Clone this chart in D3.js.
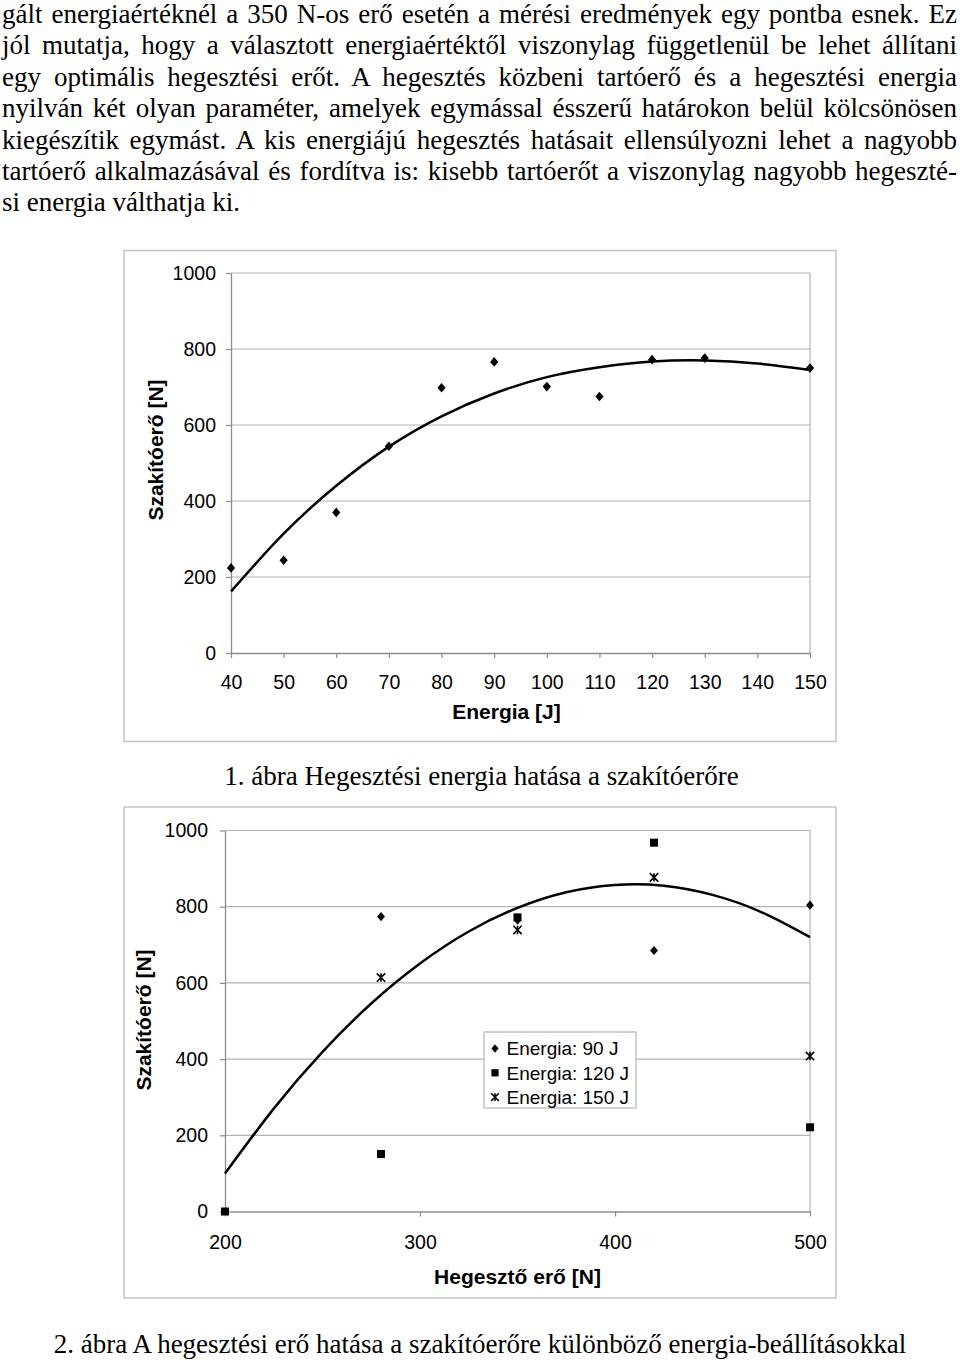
<!DOCTYPE html>
<html><head><meta charset="utf-8">
<script src="https://cdn.jsdelivr.net/npm/d3@7"></script>
<style>
html,body{margin:0;padding:0;background:#fff;}
svg{display:block;}
</style></head>
<body>
<script>
// ---------- DATA ----------
const bodyLines = [
  "gált energiaértéknél a 350 N-os erő esetén a mérési eredmények egy pontba esnek. Ez",
  "jól mutatja, hogy a választott energiaértéktől viszonylag függetlenül be lehet állítani",
  "egy optimális hegesztési erőt. A hegesztés közbeni tartóerő és a hegesztési energia",
  "nyilván két olyan paraméter, amelyek egymással ésszerű határokon belül kölcsönösen",
  "kiegészítik egymást. A kis energiájú hegesztés hatásait ellensúlyozni lehet a nagyobb",
  "tartóerő alkalmazásával és fordítva is: kisebb tartóerőt a viszonylag nagyobb hegeszté-",
  "si energia válthatja ki."
];
const caption1 = "1. ábra Hegesztési energia hatása a szakítóerőre";
const caption2 = "2. ábra A hegesztési erő hatása a szakítóerőre különböző energia-beállításokkal";

// Chart 1
const energy = [40, 50, 60, 70, 80, 90, 100, 110, 120, 130, 150];
const strength1 = [224, 244, 370, 544, 698, 766, 701, 675, 772, 776, 750];
const trend1X = [40, 50, 60, 70, 80, 90, 100, 110, 120, 130, 140, 150];
const trend1Y = [162, 314, 440, 543, 623, 683, 726, 752, 767, 770, 762, 745];
const xTicks1 = [40, 50, 60, 70, 80, 90, 100, 110, 120, 130, 140, 150];
const yTicks = [0, 200, 400, 600, 800, 1000];
const xTitle1 = "Energia [J]";
const yTitle = "Szakítóerő [N]";

// Chart 2
const force90 = [280, 350, 420, 500];
const s90 = [774, 765, 685, 804];
const force120 = [200, 280, 350, 420, 500];
const s120 = [0, 151, 772, 968, 221];
const force150 = [280, 350, 420, 500];
const s150 = [614, 739, 877, 408];
const trend2X = [200, 225, 250, 275, 300, 325, 350, 375, 400, 425, 450, 475, 500];
const trend2Y = [100, 270, 419, 546, 651, 735, 797, 838, 857, 855, 831, 786, 720];
const xTicks2 = [200, 300, 400, 500];
const xTitle2 = "Hegesztő erő [N]";
const legendLabels = ["Energia: 90 J", "Energia: 120 J", "Energia: 150 J"];

// ---------- DRAW ----------
const W = 960, H = 1363;
const svg = d3.select("body").append("svg").attr("width", W).attr("height", H);
svg.append("rect").attr("width", W).attr("height", H).attr("fill", "#fff");

const serif = "'Liberation Serif','Times New Roman',serif";
const sans = "'Liberation Sans',Arial,sans-serif";

// body text, justified per line
const bodySize = 27;
bodyLines.forEach((ln, i) => {
  const t = svg.append("text")
    .attr("x", 2).attr("y", 23 + i * 31.4)
    .attr("font-family", serif).attr("font-size", bodySize)
    .attr("fill", "#000").text(ln);
  if (i < bodyLines.length - 1) {
    const nat = t.node().getComputedTextLength();
    const spaces = (ln.match(/ /g) || []).length;
    const target = 955;
    if (spaces > 0) t.attr("word-spacing", (target - nat) / spaces);
  }
});

svg.append("text").attr("x", 481.5).attr("y", 785).attr("text-anchor", "middle")
  .attr("font-family", serif).attr("font-size", bodySize).text(caption1);
svg.append("text").attr("x", 480).attr("y", 1353).attr("text-anchor", "middle")
  .attr("font-family", serif).attr("font-size", bodySize).text(caption2);

function frame(x0, y0, x1, y1) {
  svg.append("rect").attr("x", x0).attr("y", y0).attr("width", x1 - x0).attr("height", y1 - y0)
    .attr("fill", "#fff").attr("stroke", "#c4c4c4").attr("stroke-width", 1.5);
}

function plotBase(x, y, xTicks, cfg) {
  const g = svg.append("g");
  const [xl, xr] = x.range();
  const [yb, yt] = y.range();
  g.selectAll("line.grid").data(yTicks.filter(d => d > 0)).join("line")
    .attr("x1", xl).attr("x2", xr).attr("y1", d => y(d)).attr("y2", d => y(d))
    .attr("stroke", "#b4b4b4").attr("stroke-width", 1.2);
  g.append("line").attr("x1", xr).attr("x2", xr).attr("y1", yt).attr("y2", yb)
    .attr("stroke", "#b4b4b4").attr("stroke-width", 1.2);
  const ya = g.append("g").attr("transform", `translate(${xl},0)`)
    .call(d3.axisLeft(y).tickValues(yTicks).tickFormat(d3.format("d")).tickSize(5).tickPadding(cfg.yPad).tickSizeOuter(0));
  const xa = g.append("g").attr("transform", `translate(0,${yb})`)
    .call(d3.axisBottom(x).tickValues(xTicks).tickFormat(d3.format("d")).tickSize(5).tickPadding(cfg.xPad).tickSizeOuter(0));
  [ya, xa].forEach(a => {
    a.select(".domain").attr("stroke", "#8c8c8c").attr("stroke-width", 1.3);
    a.selectAll(".tick line").attr("stroke", "#8c8c8c").attr("stroke-width", 1.2);
    a.selectAll(".tick text").attr("font-family", sans).attr("font-size", 19.5).attr("fill", "#000");
  });
  g.append("text").attr("x", cfg.xTitleX).attr("y", cfg.xTitleY).attr("text-anchor", "middle")
    .attr("font-family", sans).attr("font-weight", "bold").attr("font-size", 21).text(cfg.xTitle);
  g.append("text").attr("transform", `translate(${cfg.yTitleX},${cfg.yTitleY}) rotate(-90)`)
    .attr("text-anchor", "middle").attr("dy", "0.36em")
    .attr("font-family", sans).attr("font-weight", "bold").attr("font-size", 21).text(yTitle);
  return g;
}

function diamond(s) { return `M0,${-s}L${s * 0.85},0L0,${s}L${-s * 0.85},0Z`; }
function square(s) { return `M${-s},${-s}H${s}V${s}H${-s}Z`; }
function star(s) { return `M${-s},${-s}L${s},${s}M${-s},${s}L${s},${-s}M0,${-s}V${s}`; }

// ---- Chart 1 ----
frame(124, 250.5, 836, 741.5);
const x1 = d3.scaleLinear().domain([40, 150]).range([231, 810]);
const y1 = d3.scaleLinear().domain([0, 1000]).range([653, 273]);
const g1 = plotBase(x1, y1, xTicks1, {
  yPad: 10, xPad: 17, xTitle: xTitle1, xTitleX: 506.5, xTitleY: 719, yTitleX: 155, yTitleY: 450
});
g1.append("path")
  .datum(trend1X.map((d, i) => [d, trend1Y[i]]))
  .attr("d", d3.line().x(d => x1(d[0])).y(d => y1(d[1])).curve(d3.curveNatural))
  .attr("fill", "none").attr("stroke", "#000").attr("stroke-width", 2.5);
g1.selectAll("path.pt").data(energy.map((d, i) => [d, strength1[i]])).join("path")
  .attr("transform", d => `translate(${x1(d[0])},${y1(d[1])})`)
  .attr("d", diamond(4.8)).attr("fill", "#000");

// ---- Chart 2 ----
frame(124, 807, 836, 1298);
const x2 = d3.scaleLinear().domain([200, 500]).range([225, 810]);
const y2 = d3.scaleLinear().domain([0, 1000]).range([1211.5, 830.5]);
const g2 = plotBase(x2, y2, xTicks2, {
  yPad: 12, xPad: 19, xTitle: xTitle2, xTitleX: 517.5, xTitleY: 1284, yTitleX: 143, yTitleY: 1020
});
g2.append("path")
  .datum(trend2X.map((d, i) => [d, trend2Y[i]]))
  .attr("d", d3.line().x(d => x2(d[0])).y(d => y2(d[1])).curve(d3.curveNatural))
  .attr("fill", "none").attr("stroke", "#000").attr("stroke-width", 2.5);

g2.selectAll("path.p120").data(force120.map((d, i) => [d, s120[i]])).join("path")
  .attr("transform", d => `translate(${x2(d[0])},${y2(d[1])})`)
  .attr("d", square(4)).attr("fill", "#000");
g2.selectAll("path.p90").data(force90.map((d, i) => [d, s90[i]])).join("path")
  .attr("transform", d => `translate(${x2(d[0])},${y2(d[1])})`)
  .attr("d", diamond(4.6)).attr("fill", "#000");
g2.selectAll("path.p150").data(force150.map((d, i) => [d, s150[i]])).join("path")
  .attr("transform", d => `translate(${x2(d[0])},${y2(d[1])})`)
  .attr("d", star(4.2)).attr("fill", "none").attr("stroke", "#000").attr("stroke-width", 1.6);

// legend
const lg = g2.append("g").attr("transform", "translate(484,1032)");
lg.append("rect").attr("width", 152).attr("height", 76).attr("fill", "#fff")
  .attr("stroke", "#b4b4b4").attr("stroke-width", 1.2);
const shapes = [diamond(4.2), square(3.6), star(3.8)];
legendLabels.forEach((lab, i) => {
  const cy = 16.5 + i * 24.3;
  const m = lg.append("path").attr("transform", `translate(11,${cy})`).attr("d", shapes[i]);
  if (i === 2) m.attr("fill", "none").attr("stroke", "#000").attr("stroke-width", 1.5);
  else m.attr("fill", "#000");
  lg.append("text").attr("x", 22.5).attr("y", cy).attr("dy", "0.36em")
    .attr("font-family", sans).attr("font-size", 19).text(lab);
});
</script>
</body></html>
